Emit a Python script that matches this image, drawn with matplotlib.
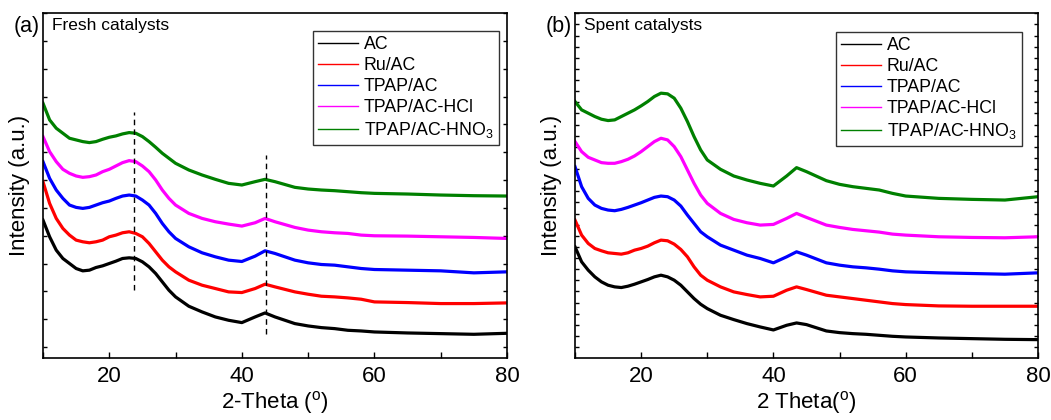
import numpy as np
import matplotlib
matplotlib.use("Agg")
import matplotlib.pyplot as plt
from matplotlib.ticker import MultipleLocator

plt.rcParams['font.family'] = ['Liberation Sans', 'DejaVu Sans']
plt.rcParams['mathtext.fontset'] = 'custom'
plt.rcParams['mathtext.rm'] = 'Liberation Sans'
plt.rcParams['mathtext.it'] = 'Liberation Sans'

# 2-theta sample positions (deg), shared by all patterns
two_theta = list(range(10, 31)) + [32, 34, 36, 38, 40, 42, 43.5, 45, 48, 50,
                                   52, 54, 56, 58, 60, 65, 70, 75, 80]

labels = ['AC', 'Ru/AC', 'TPAP/AC', 'TPAP/AC-HCl', 'TPAP/AC-HNO$_3$']
colors = ['black', '#ff0000', '#0000ff', '#ff00ff', '#008000']

# (a) fresh catalysts, stacked intensities (a.u.)
fresh_ac = [413, 363, 323, 298, 283, 268, 261, 263, 271, 276, 283, 290, 298, 300, 298,
            288, 273, 253, 228, 203, 183,
            155, 138, 123, 113, 106, 123, 135, 123, 103, 96, 91, 88, 83, 81, 78, 75, 73, 71, 74]
fresh_ru = [528, 463, 418, 388, 368, 353, 348, 345, 348, 353, 363, 368, 375, 378, 373,
            363, 343, 318, 293, 273, 258,
            233, 218, 208, 198, 196, 208, 221, 213, 198, 191, 185, 183, 180, 176, 168, 166, 163, 163, 165]
fresh_tpap = [588, 538, 503, 478, 458, 451, 448, 451, 458, 465, 470, 478, 485, 488, 485,
              473, 458, 433, 403, 378, 358,
              333, 315, 303, 293, 289, 305, 321, 313, 293, 285, 280, 278, 273, 268, 265, 263, 261, 255, 258]
fresh_hcl = [663, 618, 588, 565, 553, 545, 541, 543, 548, 558, 565, 575, 585, 591, 588,
             575, 558, 533, 503, 478, 458,
             433, 418, 408, 401, 395, 405, 418, 408, 391, 383, 378, 375, 373, 368, 366, 365, 363, 361, 358]
fresh_hno3 = [763, 713, 688, 673, 658, 653, 648, 645, 648, 655, 661, 665, 671, 675, 673,
              663, 648, 631, 613, 598, 583,
              563, 548, 535, 523, 518, 528, 535, 528, 511, 506, 503, 501, 498, 495, 493, 491, 488, 486, 485]

# (b) spent catalysts
spent_ac = [333, 288, 263, 243, 228, 218, 213, 211, 215, 221, 228, 235, 243, 248, 243,
            233, 218, 198, 178, 161, 148,
            128, 115, 103, 93, 84, 98, 105, 100, 81, 76, 73, 71, 68, 65, 63, 60, 58, 56, 55]
spent_ru = [413, 368, 343, 328, 321, 315, 313, 311, 315, 323, 328, 335, 345, 353, 351,
            341, 325, 303, 273, 248, 233,
            213, 198, 190, 183, 185, 203, 213, 205, 188, 183, 178, 173, 168, 163, 160, 156, 155, 155, 155]
spent_tpap = [573, 513, 478, 458, 448, 443, 441, 445, 451, 458, 465, 473, 481, 485, 483,
              473, 455, 428, 403, 378, 363,
              338, 323, 308, 298, 285, 303, 318, 308, 285, 278, 273, 270, 266, 261, 258, 255, 253, 251, 255]
spent_hcl = [648, 618, 601, 593, 585, 583, 583, 588, 595, 605, 618, 633, 648, 658, 653,
             633, 603, 563, 523, 488, 463,
             433, 415, 405, 398, 400, 418, 433, 421, 398, 391, 385, 381, 377, 371, 368, 363, 361, 360, 363]
spent_hno3 = [768, 743, 733, 723, 715, 711, 713, 723, 733, 743, 755, 768, 783, 793, 791,
              778, 748, 708, 663, 623, 593,
              565, 545, 533, 523, 515, 545, 570, 558, 531, 520, 513, 508, 503, 493, 485, 478, 475, 473, 483]

# reference peak markers in panel (a): position, lower end, upper end
peak_lines = [(23.75, 205, 738), (43.6, 73, 608)]

fig = plt.figure(figsize=(10.51, 4.2), dpi=100)
ax_a = fig.add_axes([0.0409, 0.1476, 0.4415, 0.8214])
ax_b = fig.add_axes([0.5471, 0.1476, 0.4405, 0.8214])

panels = [
    (ax_a, [fresh_ac, fresh_ru, fresh_tpap, fresh_hcl, fresh_hno3], '(a)',
     'Fresh catalysts', '2-Theta ($^{\\rm o}$)', 83.3, (0.582, 0.948)),
    (ax_b, [spent_ac, spent_ru, spent_tpap, spent_hcl, spent_hno3], '(b)',
     'Spent catalysts', '2 Theta($^{\\rm o}$)', 33.3, (0.564, 0.945)),
]

for ax, series, tag, title, xlabel, ystep, leg_anchor in panels:
    for y, c, lab in zip(series, colors, labels):
        ax.plot(two_theta, y, color=c, lw=2.3, label=lab)
    ax.set_xlim(10, 80)
    ax.set_ylim(0, 1033)
    ax.xaxis.set_major_locator(MultipleLocator(20))
    ax.xaxis.set_minor_locator(MultipleLocator(10))
    ax.set_yticks(np.arange(33, 1033, ystep))
    ax.set_yticklabels([])
    ax.tick_params(axis='x', which='both', direction='in', length=4, width=1,
                   labelsize=16, pad=6)
    ax.tick_params(axis='y', which='both', direction='in', length=3, width=1,
                   left=True, right=True)
    for sp in ax.spines.values():
        sp.set_linewidth(1.2)
    ax.set_xlabel(xlabel, fontsize=16, labelpad=1)
    ax.set_ylabel('Intensity (a.u.)', fontsize=16, labelpad=6)
    ax.text(0.02, 0.985, title, transform=ax.transAxes, fontsize=12.5,
            ha='left', va='top')
    ax.text(-0.007, 0.99, tag, transform=ax.transAxes, fontsize=15.5,
            ha='right', va='top')
    leg = ax.legend(loc='upper left', bbox_to_anchor=leg_anchor, fontsize=12.8,
                    frameon=True, fancybox=False, edgecolor='black',
                    handlelength=2.25, handletextpad=0.3, labelspacing=0.22,
                    borderpad=0.3, borderaxespad=0)
    leg.get_frame().set_linewidth(1.0)
    for h in leg.get_lines():
        h.set_linewidth(1.0)

for x, y0, y1 in peak_lines:
    ax_a.plot([x, x], [y0, y1], color='black', lw=1.0, ls=(0, (4, 3)))

fig.savefig('out.png', dpi=100)
